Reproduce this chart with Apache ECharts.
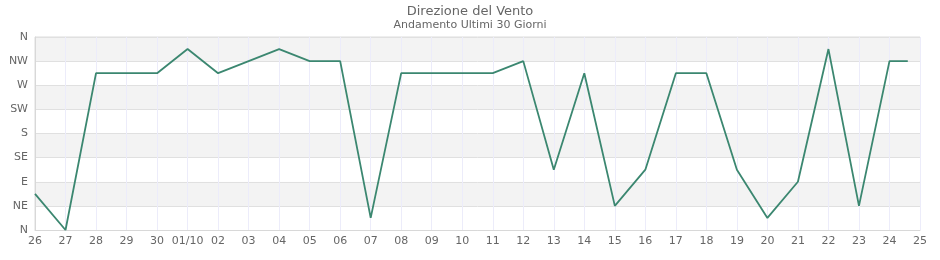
<!DOCTYPE html>
<html>
<head>
<meta charset="utf-8">
<script src="https://cdn.jsdelivr.net/npm/echarts@6/dist/echarts.min.js"></script>
<style>html,body{margin:0;padding:0;background:#fff}#c{width:940px;height:260px}</style>
</head>
<body>
<div id="c"></div>
<script>
var tickLabels = ['26','27','28','29','30','01/10','02','03','04','05','06','07','08','09','10','11','12','13','14','15','16','17','18','19','20','21','22','23','24','25'];
var dirLabels = ['N','NE','E','SE','S','SW','W','NW','N'];
// day position (index into tickLabels, fractional = time within day)
var dayPos = [0,1,2,3,4,5,6,7,8,9,10,11,12,13,14,15,16,17,18,19,20,21,22,23,24,25,26,27,28,28.6];
// wind direction in degrees
var dirDeg = [67.5,0,292.5,292.5,292.5,337.5,292.5,315,337.5,315,315,22.5,292.5,292.5,292.5,292.5,315,112.5,292.5,45,112.5,292.5,292.5,112.5,22.5,90,337.5,45,315,315];

var chart = echarts.init(document.getElementById('c'), null, {renderer:'canvas'});
var font = 'DejaVu Sans';
chart.setOption({
  animation:false,
  title:{
    text:'Direzione del Vento',
    subtext:'Andamento Ultimi 30 Giorni',
    left:'center', top:0, itemGap:2,
    textStyle:{fontFamily:font,fontSize:13,fontWeight:'normal',color:'#666'},
    subtextStyle:{fontFamily:font,fontSize:11,color:'#666'}
  },
  grid:{left:35,right:20,top:37,bottom:30,show:true,borderColor:'#dcdcdc',borderWidth:1,backgroundColor:'transparent'},
  xAxis:{
    type:'value', min:0, max:tickLabels.length-1, interval:1,
    axisLine:{show:true,lineStyle:{color:'#d8d8d8'}},
    axisTick:{show:false},
    axisLabel:{fontFamily:font,fontSize:11,color:'#666',margin:6,
      formatter:function(v){return tickLabels[Math.round(v)]||'';}},
    splitLine:{show:true,lineStyle:{color:'#ececfa',width:1}}
  },
  yAxis:{
    type:'value', min:0, max:360, interval:45,
    axisLine:{show:true,lineStyle:{color:'#d8d8d8'}},
    axisTick:{show:false},
    axisLabel:{fontFamily:font,fontSize:11,color:'#666',margin:7,
      formatter:function(v){return dirLabels[Math.round(v/45)];}},
    splitLine:{show:true,lineStyle:{color:'#e0e0e0',width:1}},
    splitArea:{show:true,areaStyle:{color:['#ffffff','#f3f3f3']}}
  },
  series:[{
    type:'line', symbol:'none',
    data:dayPos.map(function(d,i){return [d,dirDeg[i]];}),
    lineStyle:{color:'#3b8770',width:1.8}
  }]
});
</script>
</body>
</html>
